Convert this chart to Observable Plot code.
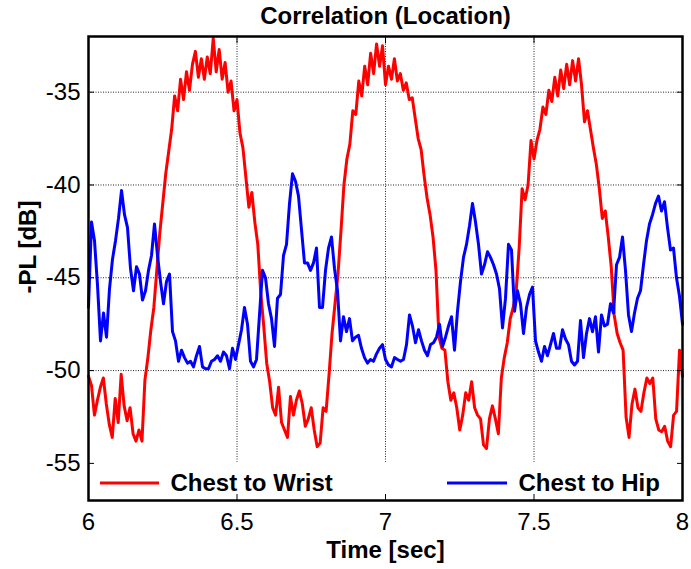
<!DOCTYPE html>
<html>
<head>
<meta charset="utf-8">
<script src="https://cdn.jsdelivr.net/npm/d3@7"></script>
<script src="https://cdn.jsdelivr.net/npm/@observablehq/plot@0.6"></script>
<style>
  html, body { margin: 0; padding: 0; background: white; }
  #chart { width: 691px; height: 569px; }
</style>
</head>
<body>
<div id="chart"></div>
<script>
const title = "Correlation (Location)";
const xLabel = "Time [sec]";
const yLabel = "-PL [dB]";
const seriesNames = ["Chest to Wrist", "Chest to Hip"];
const seriesColors = ["#ff0000", "#0000ff"];
const xDomain = [6, 8];
const yDomain = [-57, -32];
const xTicks = [6, 6.5, 7, 7.5, 8];
const yTicks = [-55, -50, -45, -40, -35];

// Chest to Wrist, evenly sampled from 6 to 8 s
const wrist = [
  -50.3,-50.8,-52.4,-51.6,-50.9,-50.4,-51.8,-52.9,-53.6,-51.5,
  -52.8,-50.2,-51.9,-52.7,-52.0,-53.4,-53.8,-53.2,-53.8,-50.5,
  -49.3,-47.8,-46.6,-44.6,-42.6,-41.0,-39.4,-38.2,-37.0,-35.2,
  -36.0,-34.3,-35.4,-33.9,-34.9,-33.5,-32.8,-34.2,-33.2,-34.3,
  -33.1,-34.0,-32.1,-33.9,-32.7,-34.3,-33.4,-35.0,-34.4,-36.0,
  -35.4,-37.2,-38.0,-39.6,-41.2,-40.4,-42.0,-43.2,-45.8,-47.6,
  -49.6,-50.6,-52.0,-52.4,-50.9,-52.8,-53.2,-53.6,-51.4,-52.4,
  -51.6,-51.1,-51.8,-53.0,-52.6,-52.0,-53.2,-54.1,-53.9,-52.0,
  -52.2,-50.2,-48.0,-46.4,-44.8,-42.5,-40.0,-38.6,-37.8,-36.0,
  -36.2,-34.4,-35.2,-33.6,-34.6,-32.9,-34.0,-32.4,-33.6,-32.5,
  -34.6,-33.6,-34.3,-33.2,-34.4,-34.0,-34.9,-34.5,-35.4,-35.3,
  -36.4,-37.5,-38.1,-39.5,-40.7,-41.6,-42.8,-44.6,-48.2,-48.8,
  -48.9,-50.6,-51.6,-51.2,-52.0,-53.2,-52.4,-51.2,-51.6,-50.6,
  -52.0,-52.4,-52.6,-54.0,-54.2,-52.6,-51.9,-52.6,-53.4,-50.4,
  -49.3,-48.5,-47.2,-46.6,-45.7,-43.4,-40.2,-40.8,-40.0,-37.6,
  -38.6,-37.6,-37.0,-35.8,-36.2,-34.9,-35.5,-34.2,-35.2,-33.8,
  -34.8,-33.5,-34.6,-33.3,-34.4,-33.2,-34.6,-36.6,-36.0,-37.0,
  -38.0,-38.9,-40.2,-41.8,-41.4,-42.8,-44.4,-47.0,-48.0,-48.5,
  -48.9,-52.5,-53.6,-51.8,-51.0,-52.0,-52.2,-51.2,-50.4,-50.7,
  -50.4,-52.6,-53.2,-53.3,-53.0,-53.8,-54.1,-52.4,-52.2,-48.9,
  -50.3
];

// Chest to Hip, evenly sampled from 6 to 8 s
const hip = [
  -46.6,-42.0,-43.0,-45.4,-48.4,-46.9,-48.2,-45.6,-44.0,-43.0,
  -41.8,-40.3,-41.6,-42.3,-44.5,-45.7,-44.4,-44.8,-46.2,-45.7,
  -44.6,-43.8,-42.1,-43.8,-45.2,-46.4,-45.2,-44.8,-47.9,-48.4,
  -49.5,-48.9,-49.3,-49.6,-49.5,-49.8,-49.2,-48.7,-49.8,-49.9,
  -49.9,-49.5,-49.4,-49.2,-49.5,-49.0,-49.2,-49.9,-48.8,-49.4,
  -48.6,-47.8,-46.6,-47.5,-49.5,-49.8,-49.4,-47.0,-44.6,-45.0,
  -46.4,-47.2,-48.7,-46.1,-45.9,-43.8,-43.2,-41.0,-39.4,-39.8,
  -40.6,-42.4,-44.2,-44.2,-44.6,-44.2,-43.4,-46.6,-46.6,-44.6,
  -43.4,-42.8,-44.5,-45.7,-48.4,-47.1,-47.9,-47.2,-48.4,-48.2,
  -48.1,-48.8,-49.3,-49.6,-49.4,-49.5,-49.1,-48.8,-48.6,-49.4,
  -49.7,-49.8,-49.3,-49.4,-49.5,-49.4,-48.6,-47.0,-47.6,-48.5,
  -47.8,-48.4,-48.9,-49.2,-48.6,-48.5,-48.2,-47.5,-48.7,-48.2,
  -47.6,-47.1,-48.9,-46.8,-45.2,-43.9,-43.2,-42.2,-41.0,-42.0,
  -43.2,-44.8,-44.3,-43.6,-43.9,-44.3,-44.8,-45.6,-47.7,-46.1,
  -43.2,-43.5,-46.8,-45.7,-46.4,-48.0,-46.6,-45.9,-45.5,-48.4,
  -49.0,-49.5,-48.7,-49.2,-48.6,-48.0,-48.8,-48.8,-47.8,-48.3,
  -48.6,-49.5,-49.7,-49.5,-47.3,-49.3,-48.0,-47.2,-47.9,-47.1,
  -49.0,-47.0,-47.6,-47.5,-46.4,-46.9,-44.3,-43.9,-42.8,-44.6,
  -47.0,-47.9,-46.9,-46.1,-45.7,-44.3,-43.0,-42.1,-41.6,-41.0,
  -40.6,-41.4,-40.9,-42.3,-43.5,-43.4,-45.0,-46.0,-47.5
];

const sampleTimes = (n) => d3.range(n).map(i => xDomain[0] + (xDomain[1] - xDomain[0]) * i / (n - 1));
const wristTime = sampleTimes(wrist.length);
const hipTime = sampleTimes(hip.length);

const font = "'Liberation Sans', Arial, Helvetica, sans-serif";
const fmt = d => `${d}`;
const gridStyle = {stroke: "black", strokeOpacity: 0.85, strokeWidth: 1, strokeDasharray: "1,1.5"};

const chart = Plot.plot({
  width: 691,
  height: 569,
  marginLeft: 88,
  marginRight: 9,
  marginTop: 36,
  marginBottom: 69,
  style: {fontFamily: font, fontSize: "24px", color: "black", background: "white", overflow: "visible"},
  x: {domain: xDomain, ticks: xTicks, label: null},
  y: {domain: yDomain, ticks: yTicks, label: null},
  marks: [
    Plot.gridX(xTicks, gridStyle),
    Plot.gridY(yTicks, gridStyle),
    Plot.lineY(wrist, {x: wristTime, y: d => d, stroke: seriesColors[0], strokeWidth: 3}),
    Plot.lineY(hip, {x: hipTime, y: d => d, stroke: seriesColors[1], strokeWidth: 3}),
    Plot.rect([0], {x1: xDomain[0], x2: xDomain[1], y1: yDomain[0], y2: yTicks[0] + 0.06, fill: "white"}),
    Plot.axisX(xTicks, {anchor: "bottom", tickSize: 0, tickPadding: 12, tickFormat: fmt, fontSize: 24}),
    Plot.axisX(xTicks, {anchor: "bottom", tickSize: -6, tickFormat: () => ""}),
    Plot.axisX(xTicks, {anchor: "top", tickSize: -6, tickFormat: () => ""}),
    Plot.axisY(yTicks, {anchor: "left", tickSize: 0, tickPadding: 8, tickFormat: fmt, fontSize: 24}),
    Plot.axisY(yTicks, {anchor: "left", tickSize: -6, tickFormat: () => ""}),
    Plot.axisY(yTicks, {anchor: "right", tickSize: -6, tickFormat: () => ""}),
    Plot.frame({stroke: "black", strokeWidth: 2.5}),
    Plot.text([title], {text: d => d, frameAnchor: "top", dy: -20, lineAnchor: "middle", fontWeight: "bold", fontSize: 24}),
    Plot.text([xLabel], {text: d => d, frameAnchor: "bottom", dy: 50, lineAnchor: "middle", fontWeight: "bold", fontSize: 24}),
    Plot.text([seriesNames[0]], {text: d => d, frameAnchor: "bottom-left", dx: 82, dy: -17, textAnchor: "start", lineAnchor: "middle", fontWeight: "bold", fontSize: 24}),
    Plot.text([seriesNames[1]], {text: d => d, frameAnchor: "bottom-left", dx: 430, dy: -17, textAnchor: "start", lineAnchor: "middle", fontWeight: "bold", fontSize: 24})
  ]
});

const svg = d3.select(chart);

// y-axis label (rotated)
svg.append("text")
  .attr("transform", "translate(27,247) rotate(-90)")
  .attr("text-anchor", "middle")
  .attr("dominant-baseline", "central")
  .attr("font-family", font)
  .attr("font-size", 24)
  .attr("font-weight", "bold")
  .attr("fill", "black")
  .text(yLabel);

// legend line swatches
const legendY = 569 - 69 - 17;
[[100, 159], [447, 507]].forEach(([a, b], i) => {
  svg.append("line")
    .attr("x1", a).attr("x2", b)
    .attr("y1", legendY).attr("y2", legendY)
    .attr("stroke", seriesColors[i]).attr("stroke-width", 3);
});

document.getElementById("chart").appendChild(chart);
</script>
</body>
</html>
